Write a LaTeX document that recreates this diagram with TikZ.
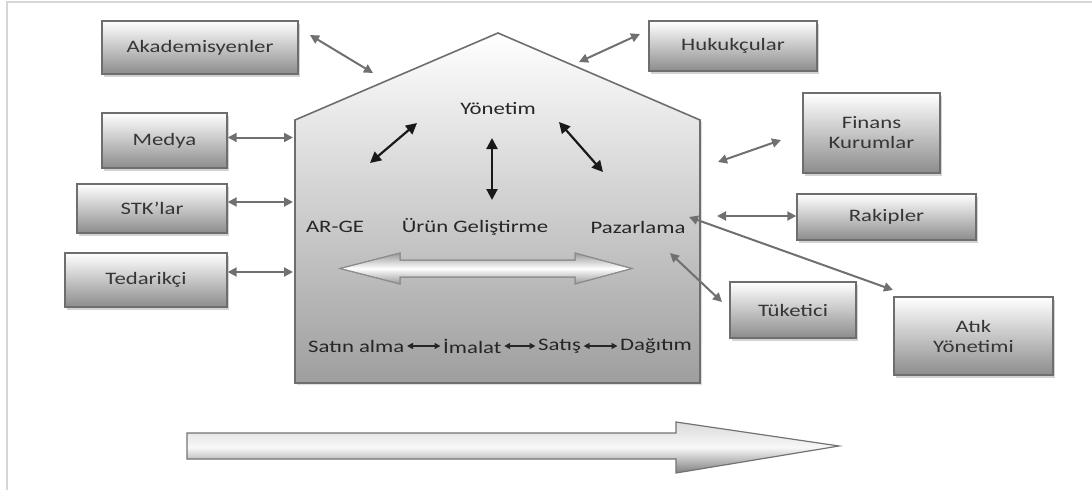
\documentclass[tikz,border=0pt]{standalone}
\usepackage{fontspec}
\setmainfont[FakeStretch=1.3]{Carlito}
\usetikzlibrary{arrows.meta,shadows}
\definecolor{edgegray}{HTML}{6E6E6E}
\definecolor{arrgray}{HTML}{707070}
\definecolor{txtgray}{HTML}{363636}
\definecolor{framegray}{HTML}{D6D6D6}
\begin{document}
\begin{tikzpicture}[x=1pt,y=-1pt,
  box/.style={rectangle, draw=edgegray, line width=1.4pt, top color=white, bottom color=black!45,
    text=txtgray, font=\fontsize{17.5}{20}\selectfont, align=center, inner sep=2pt,
    drop shadow={shadow xshift=2pt, shadow yshift=-2.5pt, opacity=0.35}},
  conn/.style={{Triangle[length=9pt,width=9pt]}-{Triangle[length=9pt,width=9pt]}, draw=arrgray, line width=2pt},
  inarr/.style={{Triangle[length=11pt,width=11pt]}-{Triangle[length=11pt,width=11pt]}, draw=black!90, line width=2.2pt},
  intext/.style={text=black!85, font=\fontsize{17.5}{20}\selectfont, inner sep=1pt},
  rowarr/.style={{Triangle[length=6pt,width=6pt]}-{Triangle[length=6pt,width=6pt]}, draw=black!85, line width=1.4pt, shorten <=1.5pt, shorten >=1.5pt},
  blockarrow/.style={draw=black!45, line width=1pt}
]
\useasboundingbox (0,0) rectangle (1092,490);
% frame
\draw[framegray, line width=1.5pt] (7,490) -- (7,2) -- (1092,2);

% house
\draw[edgegray, line width=1.6pt, top color=white, bottom color=black!38,
  drop shadow={shadow xshift=2pt, shadow yshift=-2pt, opacity=0.25}]
  (295,383) -- (295,120) -- (498,33) -- (700,120) -- (700,383) -- cycle;

% inner double block arrow
\path[blockarrow, top color=black!40, bottom color=black!40, middle color=white]
  (340,268.5) -- (400,253) -- (400,260) -- (575,260) -- (575,253) -- (632,268.5)
  -- (575,284) -- (575,277) -- (400,277) -- (400,284) -- cycle;
\draw[blockarrow]
  (340,268.5) -- (400,253) -- (400,260) -- (575,260) -- (575,253) -- (632,268.5)
  -- (575,284) -- (575,277) -- (400,277) -- (400,284) -- cycle;

% bottom process arrow
\path[top color=black!14, bottom color=black!50, middle color=black!3]
  (187,433) -- (676,433) -- (676,422) -- (839,446) -- (676,473) -- (676,459) -- (187,459) -- cycle;
\draw[draw=black!55, line width=1.2pt]
  (187,433) -- (676,433) -- (676,422) -- (839,446) -- (676,473) -- (676,459) -- (187,459) -- cycle;

% inner texts
\node[intext] (yon) at (498,109) {Yönetim};
\node[intext] (arge) at (335,227) {AR-GE};
\node[intext] (urun) at (475,227) {Ürün Geliştirme};
\node[intext] (paz) at (638,227) {Pazarlama};

\node[intext, anchor=west] (satin) at (307,346) {Satın alma};
\node[intext, anchor=west] (imalat) at (442,346) {İmalat};
\node[intext, anchor=west] (satis) at (537,346) {Satış};
\node[intext, anchor=west] (dagitim) at (619,346) {Dağıtım};
\draw[rowarr] (satin.east) -- (imalat.west);
\draw[rowarr] (imalat.east) -- (satis.west);
\draw[rowarr] (satis.east) -- (dagitim.west);

% inner management arrows
\coordinate (yl1) at (370,163); \coordinate (yl2) at (417,123);
\coordinate (yv1) at (492,138); \coordinate (yv2) at (492,200);
\coordinate (yr1) at (559,122); \coordinate (yr2) at (603,172);
\draw[inarr] (yl1) -- (yl2);
\draw[inarr] (yv1) -- (yv2);
\draw[inarr] (yr1) -- (yr2);

% outside boxes
\node[box, minimum width=196pt, minimum height=53pt] (akad) at (200,47.5) {Akademisyenler};
\node[box, minimum width=168pt, minimum height=50pt] (huku) at (733,46) {Hukukçular};
\node[box, minimum width=125pt, minimum height=55pt] (medya) at (164.5,140.5) {Medya};
\node[box, minimum width=150pt, minimum height=49pt] (stk) at (152,208.5) {STK'lar};
\node[box, minimum width=162pt, minimum height=54pt] (ted) at (146,280) {Tedarikçi};
\node[box, minimum width=137pt, minimum height=80pt] (fin) at (871.5,133) {Finans\\Kurumlar};
\node[box, minimum width=179pt, minimum height=46pt] (rak) at (886.5,217) {Rakipler};
\node[box, minimum width=126pt, minimum height=56pt] (tuk) at (793,310) {Tüketici};
\node[box, minimum width=159pt, minimum height=78pt] (atik) at (973.5,336) {Atık\\Yönetimi};

% outside connectors
\coordinate (ca1) at (310,35); \coordinate (ca2) at (373,73);
\coordinate (ch1) at (579,62); \coordinate (ch2) at (640,34);
\coordinate (cm) at (293,137.5);
\coordinate (cs) at (293,202);
\coordinate (ct) at (293,272);
\coordinate (cf1) at (718,162); \coordinate (cf2) at (781,140);
\coordinate (cr) at (717,216);
\coordinate (cu1) at (670,253); \coordinate (cu2) at (722,302);
\coordinate (cp1) at (689,217); \coordinate (cp2) at (893,290);
\draw[conn] (ca1) -- (ca2);
\draw[conn] (ch1) -- (ch2);
\draw[conn] (medya.east |- cm) -- (cm);
\draw[conn] (stk.east |- cs) -- (cs);
\draw[conn] (ted.east |- ct) -- (ct);
\draw[conn] (cf1) -- (cf2);
\draw[conn] (cr) -- (rak.west |- cr);
\draw[conn] (cu1) -- (cu2);
\draw[conn] (cp1) -- (cp2);
\end{tikzpicture}
\end{document}
